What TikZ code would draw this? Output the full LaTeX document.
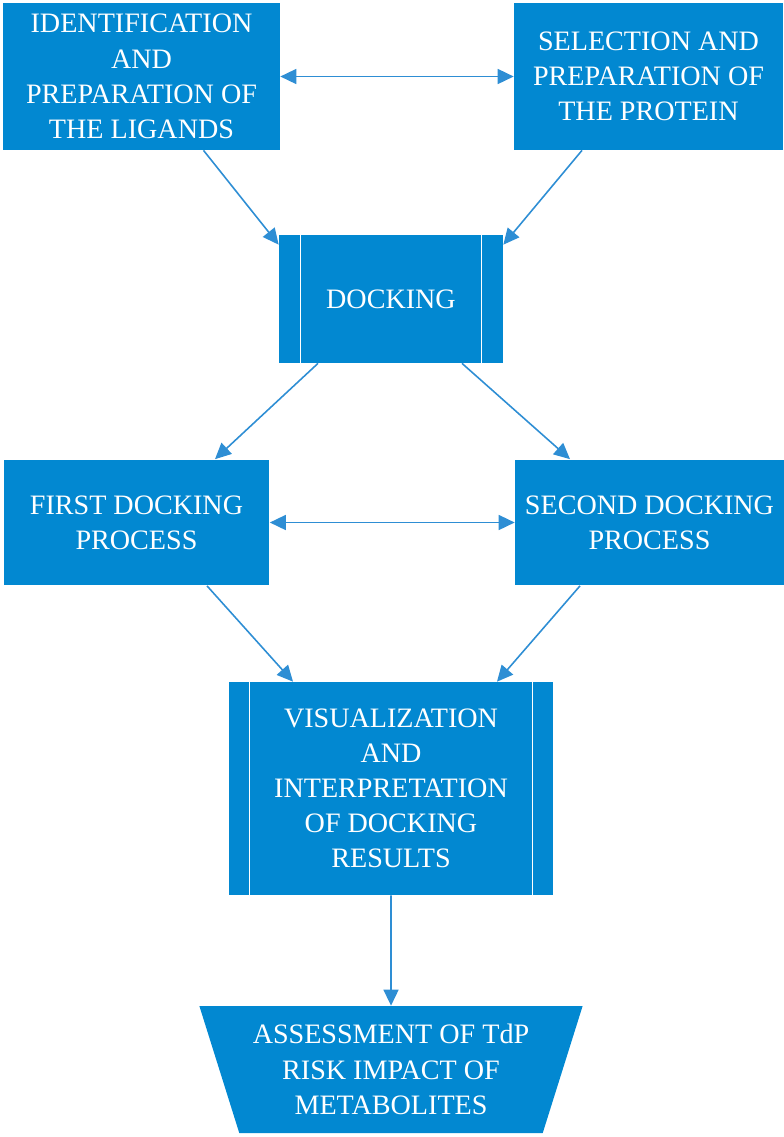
\documentclass[tikz,border=0pt]{standalone}
\usepackage{fontspec}
\setmainfont{Liberation Serif}
\usepackage{tikz}
\usetikzlibrary{arrows.meta,shapes.geometric,positioning}
\definecolor{stepblue}{HTML}{0288D1}
\definecolor{linkblue}{HTML}{2E8ED4}

\tikzset{
  stepbox/.style={rectangle,fill=stepblue,text=white,align=center,inner sep=2pt,
    font=\fontsize{16}{20}\selectfont},
  link/.style={draw=linkblue,line width=0.9pt,-{Triangle[length=0.32cm,width=0.3cm]}},
  twolink/.style={draw=linkblue,line width=0.9pt,{Triangle[length=0.32cm,width=0.3cm]}-{Triangle[length=0.32cm,width=0.3cm]}},
  bar/.style={draw=white,line width=0.8pt}
}

\begin{document}
\begin{tikzpicture}[x=0.02cm,y=-0.02cm]
      \useasboundingbox (0,0) rectangle (784,1137);
      % Top row
      \node[stepbox,minimum width=5.54cm,minimum height=2.94cm] (lig) at (141.5,76.5)
        {IDENTIFICATION\\AND\\PREPARATION OF\\THE LIGANDS};
      \node[stepbox,minimum width=5.38cm,minimum height=2.94cm] (prot) at (648.5,76.5)
        {SELECTION AND\\PREPARATION OF\\THE PROTEIN};
      % Docking
      \node[stepbox,minimum width=4.48cm,minimum height=2.56cm] (dock) at (391,299) {DOCKING};
      \draw[bar] ([xshift=0.44cm]dock.north west) -- ([xshift=0.44cm]dock.south west);
      \draw[bar] ([xshift=-0.44cm]dock.north east) -- ([xshift=-0.44cm]dock.south east);
      % Two docking runs
      \node[stepbox,minimum width=5.32cm,minimum height=2.52cm] (first) at (136.5,522.5)
        {FIRST DOCKING\\PROCESS};
      \node[stepbox,minimum width=5.38cm,minimum height=2.52cm] (second) at (649.5,522.5)
        {SECOND DOCKING\\PROCESS};
      % Visualization
      \node[stepbox,minimum width=6.48cm,minimum height=4.26cm] (vis) at (391,788.5)
        {VISUALIZATION\\AND\\INTERPRETATION\\OF DOCKING\\RESULTS};
      \draw[bar] ([xshift=0.42cm]vis.north west) -- ([xshift=0.42cm]vis.south west);
      \draw[bar] ([xshift=-0.42cm]vis.north east) -- ([xshift=-0.42cm]vis.south east);
      % Assessment
      \node[stepbox,trapezium,trapezium stretches=true,shape border rotate=180,trapezium angle=69,
        minimum width=7.68cm,minimum height=2.54cm] (risk) at (391,1069.5)
        {ASSESSMENT OF TdP\\RISK IMPACT OF\\METABOLITES};
      % Connectors
      \draw[twolink] (lig.east) -- (prot.west);
      \draw[link] ([xshift=1.24cm]lig.south) -- ([yshift=-0.2cm]dock.north west);
      \draw[link] ([xshift=-1.33cm]prot.south) -- ([yshift=-0.2cm]dock.north east);
      \draw[link] ([xshift=-1.46cm]dock.south) -- ([xshift=1.57cm]first.north);
      \draw[link] ([xshift=1.42cm]dock.south) -- ([xshift=-1.59cm]second.north);
      \draw[twolink] (first.east) -- (second.west);
      \draw[link] ([xshift=1.41cm]first.south) -- ([xshift=-1.96cm]vis.north);
      \draw[link] ([xshift=-1.39cm]second.south) -- ([xshift=2.12cm]vis.north);
      \draw[link] (vis.south) -- (risk.north);
    \end{tikzpicture}
\end{document}
